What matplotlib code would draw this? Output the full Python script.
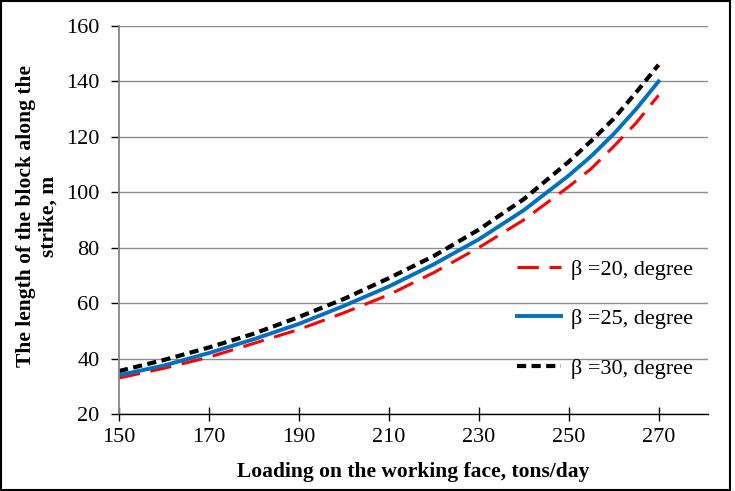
import matplotlib
matplotlib.use("Agg")
import matplotlib.pyplot as plt
from matplotlib.patches import Rectangle

plt.rcParams['font.family'] = ['Liberation Serif', 'DejaVu Serif']

loading = [150, 160, 170, 180, 190, 200, 210, 220, 230, 240, 250, 255, 260, 265, 270]
beta20 = [33, 36.5, 40.5, 45.5, 50.5, 56.5, 63, 71, 80, 90, 102, 108.5, 116.5, 125, 135]
beta25 = [34, 37.5, 42, 47, 52.5, 59, 66, 74, 83, 93.5, 106, 113, 121, 130, 140]
beta30 = [35.5, 39.5, 44, 49, 55, 61.5, 69, 77, 86.5, 97.5, 111, 118.5, 126.5, 136, 146]
labels = ["β =20, degree", "β =25, degree", "β =30, degree"]
xticks = [150, 170, 190, 210, 230, 250, 270]
yticks = [20, 40, 60, 80, 100, 120, 140, 160]

W, H = 735, 491
fig = plt.figure(figsize=(W / 100, H / 100), dpi=100)
ax = fig.add_axes([119 / W, (H - 414) / H, (708 - 119) / W, (414 - 26) / H])

ax.plot(loading, beta20, color='#FF0000', lw=2.2, dashes=(7, 3.5), label=labels[0])
ax.plot(loading, beta25, color='#0070C0', lw=2.8, label=labels[1])
ax.plot(loading, beta30, color='#000000', lw=3.0, dashes=(2.2, 1.3), label=labels[2])

ax.set_xlim(150, 281)
ax.set_ylim(20, 160)
ax.set_xticks(xticks)
ax.set_yticks(yticks)
ax.grid(axis='y', color='#8c8c8c', lw=1)
ax.set_axisbelow(True)
for s in ['top', 'right']:
    ax.spines[s].set_visible(False)
ax.spines['left'].set_color('#868686')
ax.spines['left'].set_linewidth(1.3)
ax.spines['bottom'].set_color('#000000')
ax.spines['bottom'].set_linewidth(1.0)
ax.tick_params(axis='y', direction='out', length=6, width=1, color='#000000',
               labelsize=16, pad=8)
ax.tick_params(axis='x', direction='inout', length=10, width=1, color='#000000',
               labelsize=16, pad=5)

ax.set_xlabel("Loading on the working face, tons/day", fontsize=15.5,
              fontweight='bold', labelpad=11)
fig.text(37 / W, (H - 216) / H, "The length of the block along the\nstrike, m",
         rotation=90, ha='center', va='center', fontsize=15.5, fontweight='bold',
         linespacing=1.15)

leg = ax.legend(loc='upper left', bbox_to_anchor=((497 - 119) / 589, (414 - 239) / 388),
                frameon=False, fontsize=16, handlelength=2.0, handletextpad=0.45,
                labelspacing=1.31)

fig.patches.append(Rectangle((0.001, 0.003), 0.992, 0.995, transform=fig.transFigure,
                             fill=False, edgecolor='black', lw=1.5))

fig.savefig("out.png", dpi=100)
